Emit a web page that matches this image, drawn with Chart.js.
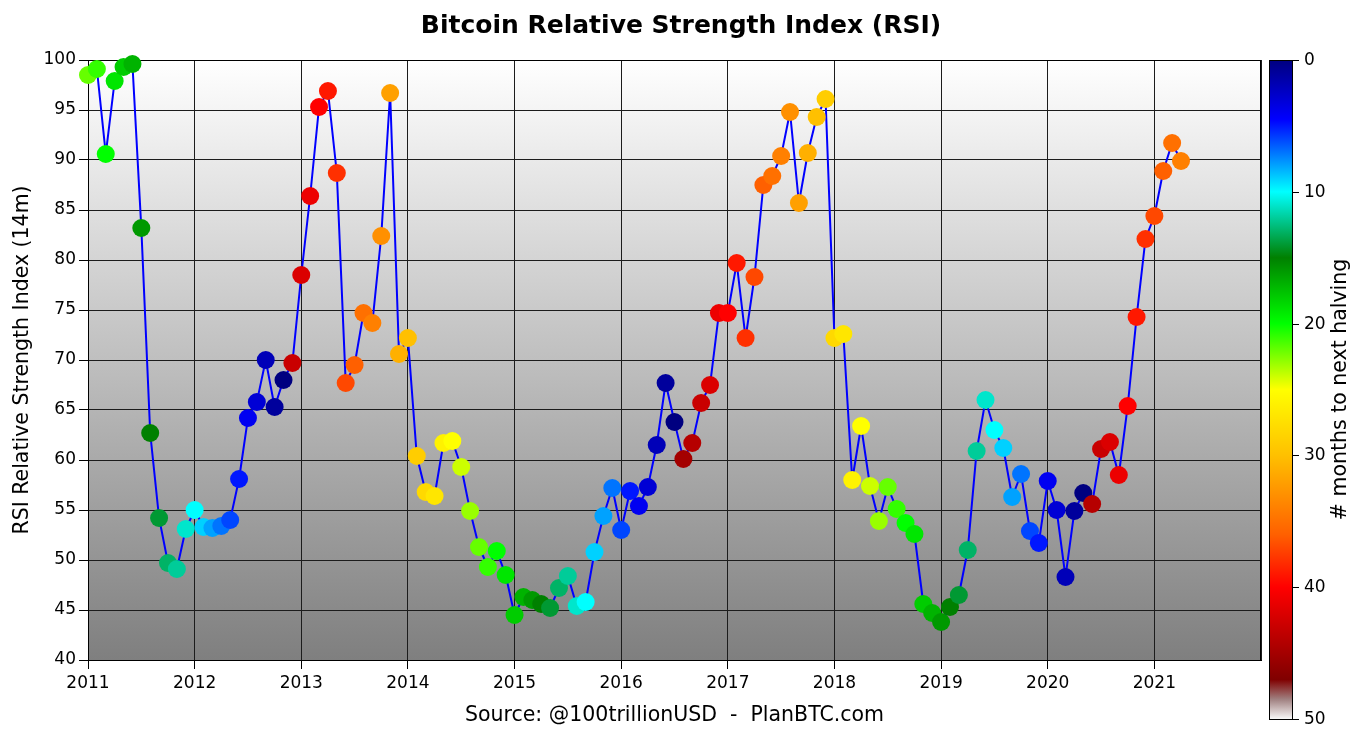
<!DOCTYPE html>
<html>
<head>
<meta charset="utf-8">
<title>Bitcoin Relative Strength Index (RSI)</title>
<script src="https://cdn.jsdelivr.net/npm/chart.js@4.4.1/dist/chart.umd.min.js"></script>
<style>
    html, body { margin: 0; padding: 0; background: #ffffff; }
    #wrap { width: 1362px; height: 739px; position: relative; }
</style>
</head>
<body>
<div id="wrap"><canvas id="chartRsi"></canvas></div>
<script>
// ─── Data (monthly, Jan 2011 → Apr 2021) ──────────────────────────────────────
const startYear = 2011;

const rsi2011 = [98.5, 99.1, 90.6, 97.9, 99.3, 99.6, 83.2, 62.7, 54.2, 49.7, 49.1, 53.1];
const rsi2012 = [55.0, 53.3, 53.2, 53.4, 54.0, 58.1, 64.2, 65.8, 70.0, 65.3, 68.0, 69.7];
const rsi2013 = [78.5, 86.4, 95.3, 96.9, 88.7, 67.7, 69.5, 74.7, 73.7, 82.4, 96.7, 70.6];
const rsi2014 = [72.2, 60.4, 56.8, 56.4, 61.7, 61.9, 59.3, 54.9, 51.3, 49.3, 50.9, 48.5];
const rsi2015 = [44.5, 46.3, 46.0, 45.6, 45.2, 47.2, 48.4, 45.4, 45.8, 50.8, 54.4, 57.2];
const rsi2016 = [53.0, 56.9, 55.4, 57.3, 61.5, 67.7, 63.8, 60.1, 61.7, 65.7, 67.5, 74.7];
const rsi2017 = [74.7, 79.7, 72.2, 78.3, 87.5, 88.4, 90.4, 94.8, 85.7, 90.7, 94.3, 96.1];
const rsi2018 = [72.2, 72.6, 58.0, 63.4, 57.4, 53.9, 57.3, 55.1, 53.7, 52.6, 45.6, 44.7];
const rsi2019 = [43.8, 45.3, 46.5, 51.0, 60.9, 66.0, 63.0, 61.2, 56.3, 58.6, 52.9, 51.7];
const rsi2020 = [57.9, 55.0, 48.3, 54.9, 56.7, 55.6, 61.1, 61.8, 58.5, 65.4, 74.3, 82.1];
const rsi2021 = [84.4, 88.9, 91.7, 89.9];

// # months to next halving, same months as above
const monthsToHalving = [
    22, 21, 20, 19, 18, 17, 16, 15, 14, 13, 12, 11,
    10, 9, 8, 7, 6, 5, 4, 3, 2, 1, 0, 43,
    42, 41, 40, 39, 38, 37, 36, 35, 34, 33, 32, 31,
    30, 29, 28, 27, 26, 25, 24, 23, 22, 21, 20, 19,
    18, 17, 16, 15, 14, 13, 12, 11, 10, 9, 8, 7,
    6, 5, 4, 3, 2, 1, 0, 45, 44, 43, 42, 41,
    40, 39, 38, 37, 36, 35, 34, 33, 32, 31, 30, 29,
    28, 27, 26, 25, 24, 23, 22, 21, 20, 19, 18, 17,
    16, 15, 14, 13, 12, 11, 10, 9, 8, 7, 6, 5,
    4, 3, 2, 1, 0, 44, 43, 42, 41, 40, 39, 38,
    37, 36, 35, 34,
];

const colorbarTicks = [0, 10, 20, 30, 40, 50];

const rsiValues = [].concat(
    rsi2011, rsi2012, rsi2013, rsi2014, rsi2015, rsi2016,
    rsi2017, rsi2018, rsi2019, rsi2020, rsi2021
);

// ─── Colour map (navy → blue → cyan → green → yellow → orange → red → white) ──
const cmapStops = [
    [0, '#000080'], [4.5, '#0000ff'], [10, '#00ffff'], [15, '#008000'],
    [20, '#00ff00'], [25, '#ffff00'], [30, '#ffc000'], [33, '#ff9000'],
    [36, '#ff6000'], [38, '#ff3000'], [40, '#ff0000'], [47, '#800000'],
    [48.5, '#a08080'], [50, '#f8f8f8'],
];

const hexRgb = h => [1, 3, 5].map(i => parseInt(h.slice(i, i + 2), 16));

function cmap(v) {
    for (let i = 1; i < cmapStops.length; i++) {
        const [v1, c1] = cmapStops[i];
        if (v <= v1) {
            const [v0, c0] = cmapStops[i - 1];
            const t = (v - v0) / (v1 - v0);
            const a = hexRgb(c0), b = hexRgb(c1);
            const c = a.map((x, k) => Math.round(x + (b[k] - x) * t));
            return `rgb(${c[0]},${c[1]},${c[2]})`;
        }
    }
    return cmapStops[cmapStops.length - 1][1];
}

const FONT = 'DejaVu Sans';
const GRID = '#1c1c1c';

// ─── Plugins ──────────────────────────────────────────────────────────────────
const plotBackground = {
    id: 'plotBackground',
    beforeDraw(chart) {
        const { ctx, chartArea: a } = chart;
        const g = ctx.createLinearGradient(0, a.top, 0, a.bottom);
        g.addColorStop(0, '#ffffff');
        g.addColorStop(1, '#7f7f7f');
        ctx.save();
        ctx.fillStyle = g;
        ctx.fillRect(a.left, a.top, a.right - a.left, a.bottom - a.top);
        ctx.restore();
    },
    beforeDatasetsDraw(chart) {
        const { ctx, chartArea: a } = chart;
        ctx.save();
        ctx.strokeStyle = '#000';
        ctx.lineWidth = 1;
        ctx.strokeRect(Math.round(a.left) + 0.5, Math.round(a.top) + 0.5,
            Math.round(a.right - a.left) - 1, Math.round(a.bottom - a.top));
        ctx.restore();
    },
};

const colorBar = {
    id: 'colorBar',
    afterDraw(chart) {
        const { ctx, chartArea: a } = chart;
        const left = a.right + 8;
        const width = 23;
        const top = a.top;
        const bottom = chart.height - 20;
        const yOf = v => top + (v / 50) * (bottom - top);

        const g = ctx.createLinearGradient(0, top, 0, bottom);
        cmapStops.forEach(([v, c]) => g.addColorStop(v / 50, c));

        ctx.save();
        ctx.fillStyle = g;
        ctx.fillRect(left, top, width, bottom - top);
        ctx.strokeStyle = '#000';
        ctx.lineWidth = 1;
        ctx.strokeRect(left + 0.5, top + 0.5, width, bottom - top);

        ctx.fillStyle = '#000';
        ctx.font = `17px "${FONT}"`;
        ctx.textAlign = 'left';
        ctx.textBaseline = 'middle';
        colorbarTicks.forEach(v => {
            const y = Math.round(yOf(v)) + 0.5;
            ctx.beginPath();
            ctx.moveTo(left + width, y);
            ctx.lineTo(left + width + 7, y);
            ctx.stroke();
            ctx.fillText(String(v), left + width + 12, y);
        });

        ctx.translate(1341, (top + bottom) / 2);
        ctx.rotate(-Math.PI / 2);
        ctx.textAlign = 'center';
        ctx.font = `20.5px "${FONT}"`;
        ctx.fillText('# months to next halving', 0, 0);
        ctx.restore();
    },
};

// ─── Chart ────────────────────────────────────────────────────────────────────
const points = rsiValues.map((v, i) => ({ x: startYear + i / 12, y: v }));
const pointColors = monthsToHalving.map(cmap);

new Chart(document.getElementById('chartRsi'), {
    type: 'scatter',
    data: {
        datasets: [
            {
                data: points,
                showLine: true,
                borderColor: '#0000ff',
                borderWidth: 2,
                tension: 0,
                pointRadius: 9,
                pointHoverRadius: 9,
                pointBorderWidth: 0,
                pointBackgroundColor: pointColors,
                clip: false,
            },
        ],
    },
    options: {
        responsive: true,
        maintainAspectRatio: false,
        animation: false,
        events: [],
        layout: { padding: 0 },
        plugins: {
            legend: { display: false },
            tooltip: { enabled: false },
            title: {
                display: true,
                text: 'Bitcoin Relative Strength Index (RSI)',
                color: '#000',
                font: { family: FONT, size: 25, weight: 'bold' },
                padding: { top: 11, bottom: 19 },
            },
        },
        scales: {
            x: {
                type: 'linear',
                min: 2011,
                max: 2022,
                afterFit: s => { s.height = 79; },
                ticks: {
                    stepSize: 1,
                    autoSkip: false,
                    maxRotation: 0,
                    padding: 4,
                    color: '#000',
                    font: { family: FONT, size: 17 },
                    callback: v => (v < 2022 ? String(v) : ''),
                },
                grid: {
                    color: GRID,
                    lineWidth: 1,
                    tickLength: 9,
                    tickColor: c => (c.tick && c.tick.value >= 2022 ? 'rgba(0,0,0,0)' : '#000'),
                },
                border: { display: true, color: '#000', width: 1 },
                title: {
                    display: true,
                    text: 'Source: @100trillionUSD  -  PlanBTC.com',
                    color: '#000',
                    font: { family: FONT, size: 20.5 },
                    padding: { top: 0, bottom: 10.7 },
                },
            },
            y: {
                min: 40,
                max: 100,
                afterFit: s => { s.width = 88; },
                ticks: {
                    stepSize: 5,
                    padding: 3,
                    color: '#000',
                    font: { family: FONT, size: 17 },
                },
                grid: { color: GRID, lineWidth: 1, tickLength: 9, tickColor: '#000' },
                border: { display: true, color: '#000', width: 1 },
                title: {
                    display: true,
                    text: 'RSI Relative Strength Index (14m)',
                    color: '#000',
                    font: { family: FONT, size: 20.5 },
                    padding: { top: 10, bottom: 0 },
                },
            },
            cb: {
                axis: 'y',
                position: 'right',
                min: 0,
                max: 50,
                afterFit: s => { s.width = 101; },
                grid: { display: false },
                ticks: { display: false },
                border: { display: false },
            },
        },
    },
    plugins: [plotBackground, colorBar],
});
</script>
</body>
</html>
